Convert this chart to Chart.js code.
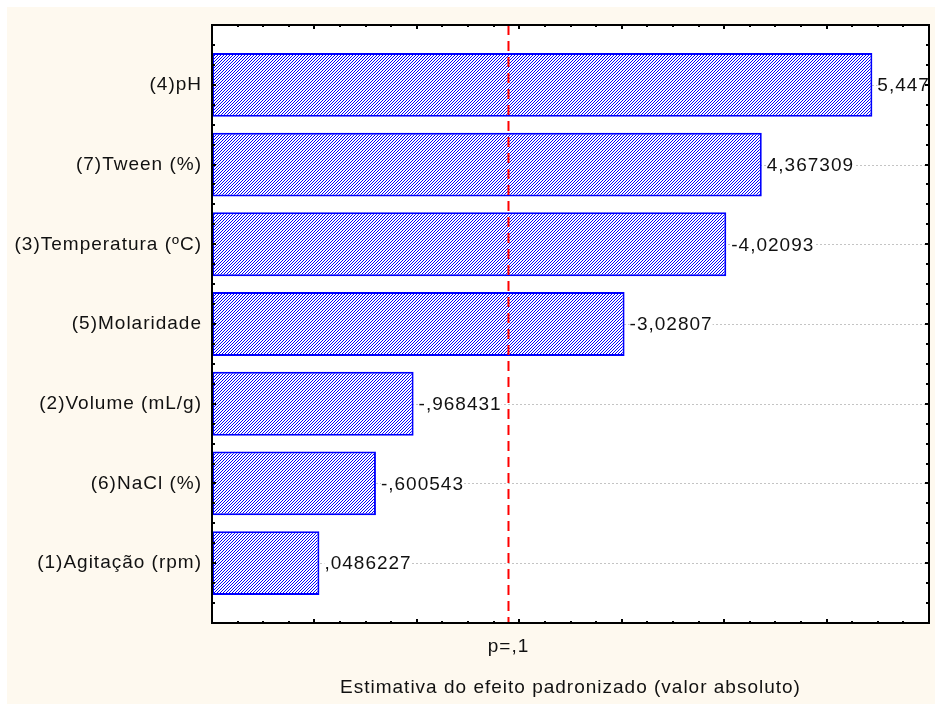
<!DOCTYPE html>
<html>
<head>
<meta charset="utf-8">
<script src="https://cdn.jsdelivr.net/npm/chart.js@4.4.1/dist/chart.umd.min.js"></script>
<style>
  body { margin: 0; background: #ffffff; }
  canvas { display: block; }
</style>
</head>
<body>
<canvas id="grafico" width="935" height="704"></canvas>
<script>
// Datos del gráfico de Pareto (de arriba hacia abajo)
const fatores = ["(4)pH", "(7)Tween (%)", "(3)Temperatura (ºC)", "(5)Molaridade",
                 "(2)Volume (mL/g)", "(6)NaCl (%)", "(1)Agitação (rpm)"];
const efeitos = [5.447, 4.367309, -4.02093, -3.02807, -0.968431, -0.600543, 0.0486227];
const rotulos = ["5,447", "4,367309", "-4,02093", "-3,02807", "-,968431", "-,600543", ",0486227"];
const pCritico = 1.8946;
const pRotulo = "p=,1";
const xMin = -1;
const xMax = 6;

const fonte = "'Liberation Sans', Arial, sans-serif";
const creme = "#fef9ef";

// Trama diagonal azul de las barras
function crearTrama() {
    const c = document.createElement("canvas");
    c.width = 3; c.height = 3;
    const g = c.getContext("2d");
    g.fillStyle = "#ffffff";
    g.fillRect(0, 0, 3, 3);
    g.fillStyle = "#0000ff";
    for (let i = 0; i < 3; i++) {
        g.fillRect(i, 2 - i, 1, 1);
    }
    return document.getElementById("grafico").getContext("2d").createPattern(c, "repeat");
}

const espaciado = {
    id: "espaciado",
    beforeLayout(chart) { chart.ctx.letterSpacing = "1px"; },
    beforeDraw(chart) {
        const ctx = chart.ctx;
        ctx.letterSpacing = "1px";
        const a = chart.chartArea;
        ctx.save();
        ctx.fillStyle = "#ffffff";
        ctx.fillRect(0, 0, chart.width, chart.height);
        ctx.fillStyle = creme;
        ctx.fillRect(7, 7, chart.width - 7, chart.height - 7);
        ctx.fillStyle = "#ffffff";
        ctx.fillRect(a.left, a.top, a.right - a.left, a.bottom - a.top);
        ctx.restore();
    }
};

const decoracion = {
    id: "decoracion",
    beforeDatasetsDraw(chart) {
        const ctx = chart.ctx, a = chart.chartArea, y = chart.scales.y;
        ctx.save();
        ctx.strokeStyle = "#c4c4c4";
        ctx.lineWidth = 1;
        ctx.setLineDash([2, 2]);
        fatores.forEach((f, i) => {
            const py = Math.round(y.getPixelForValue(i)) + 0.5;
            ctx.beginPath();
            ctx.moveTo(a.left, py);
            ctx.lineTo(a.right, py);
            ctx.stroke();
        });
        ctx.restore();
    },
    afterDatasetsDraw(chart) {
        const ctx = chart.ctx, a = chart.chartArea;
        const x = chart.scales.x, y = chart.scales.y;
        ctx.save();
        ctx.beginPath();
        ctx.rect(a.left, a.top, a.right - a.left, a.bottom - a.top);
        ctx.clip();
        ctx.font = "19px " + fonte;
        ctx.textBaseline = "middle";
        ctx.textAlign = "left";
        rotulos.forEach((r, i) => {
            const px = x.getPixelForValue(Math.abs(efeitos[i])) + 5;
            const py = y.getPixelForValue(i);
            const w = ctx.measureText(r).width;
            ctx.fillStyle = "#ffffff";
            ctx.fillRect(px, py - 9, w, 18);
            ctx.fillStyle = "#111111";
            ctx.fillText(r, px, py + 1);
        });
        // linea del valor critico
        const lx = x.getPixelForValue(pCritico);
        ctx.strokeStyle = "#ff0000";
        ctx.lineWidth = 2;
        ctx.setLineDash([10, 6]);
        ctx.beginPath();
        ctx.moveTo(lx, a.top);
        ctx.lineTo(lx, a.bottom);
        ctx.stroke();
        ctx.restore();
    },
    afterDraw(chart) {
        const ctx = chart.ctx, a = chart.chartArea;
        const x = chart.scales.x, y = chart.scales.y;
        ctx.save();
        ctx.strokeStyle = "#000000";
        ctx.lineWidth = 2;
        ctx.strokeRect(a.left, a.top, a.right - a.left, a.bottom - a.top);
        // marcas horizontales (arriba y abajo)
        for (let v = xMin; v <= xMax + 0.001; v += 0.25) {
            const px = Math.round(x.getPixelForValue(v));
            const largo = Math.abs(v - Math.round(v)) < 0.001 ? 4 : 2;
            ctx.beginPath();
            ctx.moveTo(px, a.bottom); ctx.lineTo(px, a.bottom - largo);
            ctx.moveTo(px, a.top); ctx.lineTo(px, a.top + largo);
            ctx.stroke();
        }
        // marcas verticales (izquierda y derecha)
        for (let v = -0.75; v <= fatores.length - 0.25 + 0.001; v += 0.25) {
            const py = Math.round(y.getPixelForValue(v));
            const largo = Math.abs(v - Math.round(v)) < 0.001 ? 4 : 3;
            ctx.beginPath();
            ctx.moveTo(a.left, py); ctx.lineTo(a.left + largo, py);
            ctx.moveTo(a.right, py); ctx.lineTo(a.right - largo, py);
            ctx.stroke();
        }
        ctx.restore();
    }
};

const config = {
    type: "bar",
    data: {
        datasets: [{
            data: fatores.map((f, i) => ({ x: Math.abs(efeitos[i]), y: i })),
            base: xMin,
            backgroundColor: crearTrama(),
            borderColor: "#0000ff",
            borderWidth: 2,
            borderSkipped: false,
            barPercentage: 0.8,
            categoryPercentage: 1
        }]
    },
    options: {
        indexAxis: "y",
        responsive: false,
        devicePixelRatio: 1,
        animation: false,
        layout: { padding: { top: 25, right: 6, left: 0, bottom: 0 } },
        plugins: { legend: { display: false }, tooltip: { enabled: false } },
        scales: {
            x: {
                type: "linear",
                min: xMin,
                max: xMax,
                offset: false,
                grid: { display: false, drawTicks: false },
                border: { display: false },
                afterBuildTicks(scale) { scale.ticks = [{ value: pCritico }]; },
                afterFit(scale) { scale.height = 81; },
                ticks: {
                    callback: () => pRotulo,
                    color: "#111111",
                    font: { family: fonte, size: 19 },
                    padding: 12,
                    maxRotation: 0
                },
                title: {
                    display: true,
                    text: "Estimativa do efeito padronizado (valor absoluto)",
                    color: "#111111",
                    font: { family: fonte, size: 19 },
                    padding: { top: 0, bottom: 5 }
                }
            },
            y: {
                type: "linear",
                min: -0.75,
                max: fatores.length - 0.25,
                reverse: true,
                offset: false,
                grid: { display: false, drawTicks: false, offset: false },
                border: { display: false },
                afterBuildTicks(scale) { scale.ticks = fatores.map((f, i) => ({ value: i })); },
                afterFit(scale) { scale.width = 212; },
                ticks: {
                    autoSkip: false,
                    callback: (v) => fatores[v],
                    color: "#111111",
                    font: { family: fonte, size: 19 },
                    padding: 10
                }
            }
        }
    },
    plugins: [espaciado, decoracion]
};

new Chart(document.getElementById("grafico"), config);
</script>
</body>
</html>
